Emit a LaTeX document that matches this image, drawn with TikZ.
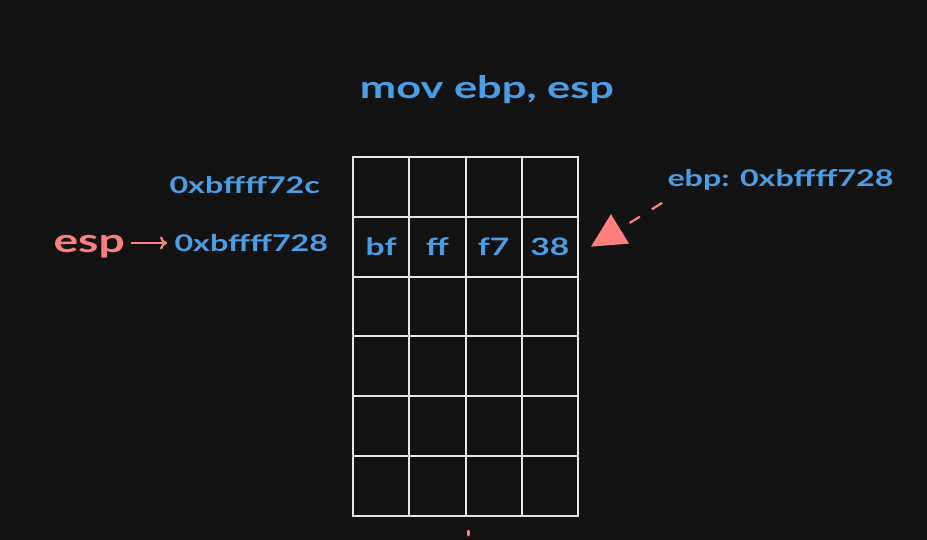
\documentclass[tikz,border=0pt]{standalone}
\usepackage{fontspec}
\setmainfont{Lato}
\newfontfamily\handfont[FakeStretch=1.4]{Lato}
\usetikzlibrary{arrows.meta}

\definecolor{bgdark}{HTML}{121212}
\definecolor{inkblue}{HTML}{4A9EE6}
\definecolor{inkred}{HTML}{FF7F7F}
\definecolor{gridgray}{HTML}{E4E4E4}

\begin{document}
\begin{tikzpicture}[x=1pt,y=-1pt,
	cell/.style={draw=gridgray,line width=2pt,minimum width=56.25pt,minimum height=59.8pt,inner sep=0pt},
	byte/.style={text=inkblue,font=\handfont\bfseries\fontsize{24}{28}\selectfont},
	addr/.style={text=inkblue,anchor=west,font=\handfont\bfseries\fontsize{23}{26}\selectfont},
	regname/.style={text=inkred,anchor=west,font=\handfont\bfseries\fontsize{33}{36}\selectfont}]

	\fill[bgdark] (0,0) rectangle (927,540);
	\useasboundingbox (0,0) rectangle (927,540);

	\node[text=inkblue,font=\handfont\bfseries\fontsize{31}{34}\selectfont] (title) at (487,90) {mov ebp, esp};

	\foreach \r in {1,...,6}
		\foreach \c in {1,...,4}
			\node[cell] (c\r\c) at ({353+56.25*(\c-0.5)},{157+59.8*(\r-0.5)}) {};

	\foreach \c/\v in {1/bf,2/ff,3/f7,4/38}
		\node[byte] (byte\c) at (c2\c) {\v};

	\node[addr] (addrtop) at (166,185) {0xbffff72c};
	\node[addr] (addresp) at (171,243) {0xbffff728};
	\node[regname] (esplbl) at (50,247) {esp};
	\node[addr] (ebplbl) at (664,180) {ebp: 0xbffff728};

	\draw[inkred,line width=2.2pt,shorten <=3pt,shorten >=4pt,-{To[length=7pt,width=13pt]}] (esplbl.east |- addresp) -- (addresp);

	\coordinate (ebptail) at (662,203);
	\draw[inkred,line width=2.2pt,dash pattern=on 12pt off 14pt,-{Triangle[length=34pt,width=34pt]}] (ebptail) -- ([xshift=12pt]c24.east);

	\draw[inkred,line width=3pt,line cap=round] (468,531) -- (468,535);

\end{tikzpicture}
\end{document}
